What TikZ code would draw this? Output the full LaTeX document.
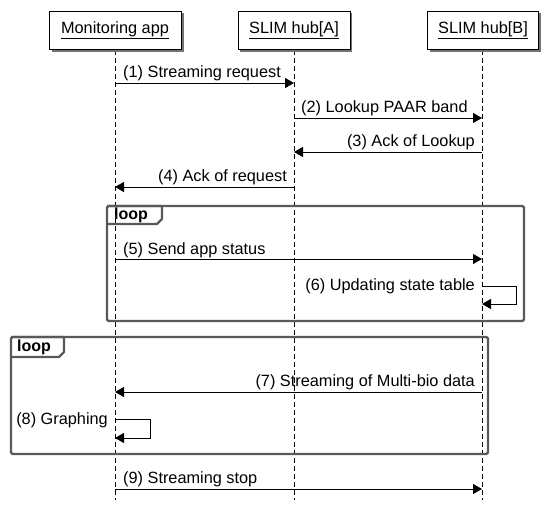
\documentclass[tikz,border=0pt]{standalone}
\usepackage{fontspec}
\setmainfont{Liberation Sans}
\usetikzlibrary{arrows.meta,calc}
\begin{document}
\begin{tikzpicture}[x=1pt,y=-1pt,
  font=\fontsize{16.3}{18}\selectfont,
  actor/.style={draw=black,fill=white,line width=0.8pt,minimum height=38pt,inner sep=0pt},
  shadowbox/.style={fill=black!55},
  lifeline/.style={draw=black,line width=0.8pt,dash pattern=on 5pt off 3pt},
  msg/.style={draw=black,line width=0.9pt,-{Triangle[length=9pt,width=10pt]}},
  frame/.style={draw=black!65,line width=2.2pt,rounded corners=1.5pt},
  looplbl/.style={anchor=west,inner sep=0pt,font=\fontsize{16}{18}\selectfont\bfseries},
  lbl/.style={inner sep=1pt,anchor=south west}]
\useasboundingbox (0,0) rectangle (550,508);
% lifelines
\coordinate (la) at (115,50); \coordinate (lae) at (115,500);
\coordinate (lb) at (294,50); \coordinate (lbe) at (294,500);
\coordinate (lc) at (482,50); \coordinate (lce) at (482,500);
\draw[lifeline] (la) -- (lae);
\draw[lifeline] (lb) -- (lbe);
\draw[lifeline] (lc) -- (lce);
% actor boxes with shadow
\fill[shadowbox] (52,13) rectangle (184,52);
\fill[shadowbox] (240,13) rectangle (352,52);
\fill[shadowbox] (430,13) rectangle (541,52);
\node[actor,minimum width=132pt] (A) at (115,30) {\underline{Monitoring app}};
\node[actor,minimum width=112pt] (B) at (294,30) {\underline{SLIM hub[A]}};
\node[actor,minimum width=111pt] (C) at (483,30) {\underline{SLIM hub[B]}};
% messages 1-4
\coordinate (m1s) at (115,83); \coordinate (m1e) at (294,83);
\draw[msg] (m1s) -- (m1e);
\node[lbl] (t1) at (122,82) {(1) Streaming request};
\coordinate (m2s) at (294,118); \coordinate (m2e) at (482,118);
\draw[msg] (m2s) -- (m2e);
\node[lbl] (t2) at (300,117) {(2) Lookup PAAR band};
\coordinate (m3s) at (482,152); \coordinate (m3e) at (294,152);
\draw[msg] (m3s) -- (m3e);
\node[lbl,anchor=south east] (t3) at (476,151) {(3) Ack of Lookup};
\coordinate (m4s) at (294,187); \coordinate (m4e) at (115,187);
\draw[msg] (m4s) -- (m4e);
\node[lbl,anchor=south east] (t4) at (288,186) {(4) Ack of request};
% loop 1
\draw[frame] (107,206) rectangle (524,321);
\draw[frame,rounded corners=0pt,line join=round] (107,206) -- (162,206) -- (162,219) -- (157,224) -- (107,224);
\node[looplbl] (L1) at (114,215) {loop};
\coordinate (m5s) at (115,259); \coordinate (m5e) at (482,259);
\draw[msg] (m5s) -- (m5e);
\node[lbl] (t5) at (122,259) {(5) Send app status};
\coordinate (m6s) at (482,286); \coordinate (m6e) at (482,304);
\draw[msg] (m6s) -- (516,286) -- (516,304) -- (m6e);
\node[lbl,anchor=south east] (t6) at (476,295) {(6) Updating state table};
% loop 2
\draw[frame] (11,337) rectangle (488,454);
\draw[frame,rounded corners=0pt,line join=round] (11,337) -- (64,337) -- (64,352) -- (59,357) -- (11,357);
\node[looplbl] (L2) at (17,347) {loop};
\coordinate (m7s) at (482,392); \coordinate (m7e) at (115,392);
\draw[msg] (m7s) -- (m7e);
\node[lbl,anchor=south east] (t7) at (476,391) {(7) Streaming of Multi-bio data};
\coordinate (m8s) at (115,419); \coordinate (m8e) at (115,438);
\draw[msg] (m8s) -- (150,419) -- (150,438) -- (m8e);
\node[lbl,anchor=south east] (t8) at (109,429) {(8) Graphing};
% message 9
\coordinate (m9s) at (115,489); \coordinate (m9e) at (482,489);
\draw[msg] (m9s) -- (m9e);
\node[lbl] (t9) at (122,488) {(9) Streaming stop};
\end{tikzpicture}
\end{document}
